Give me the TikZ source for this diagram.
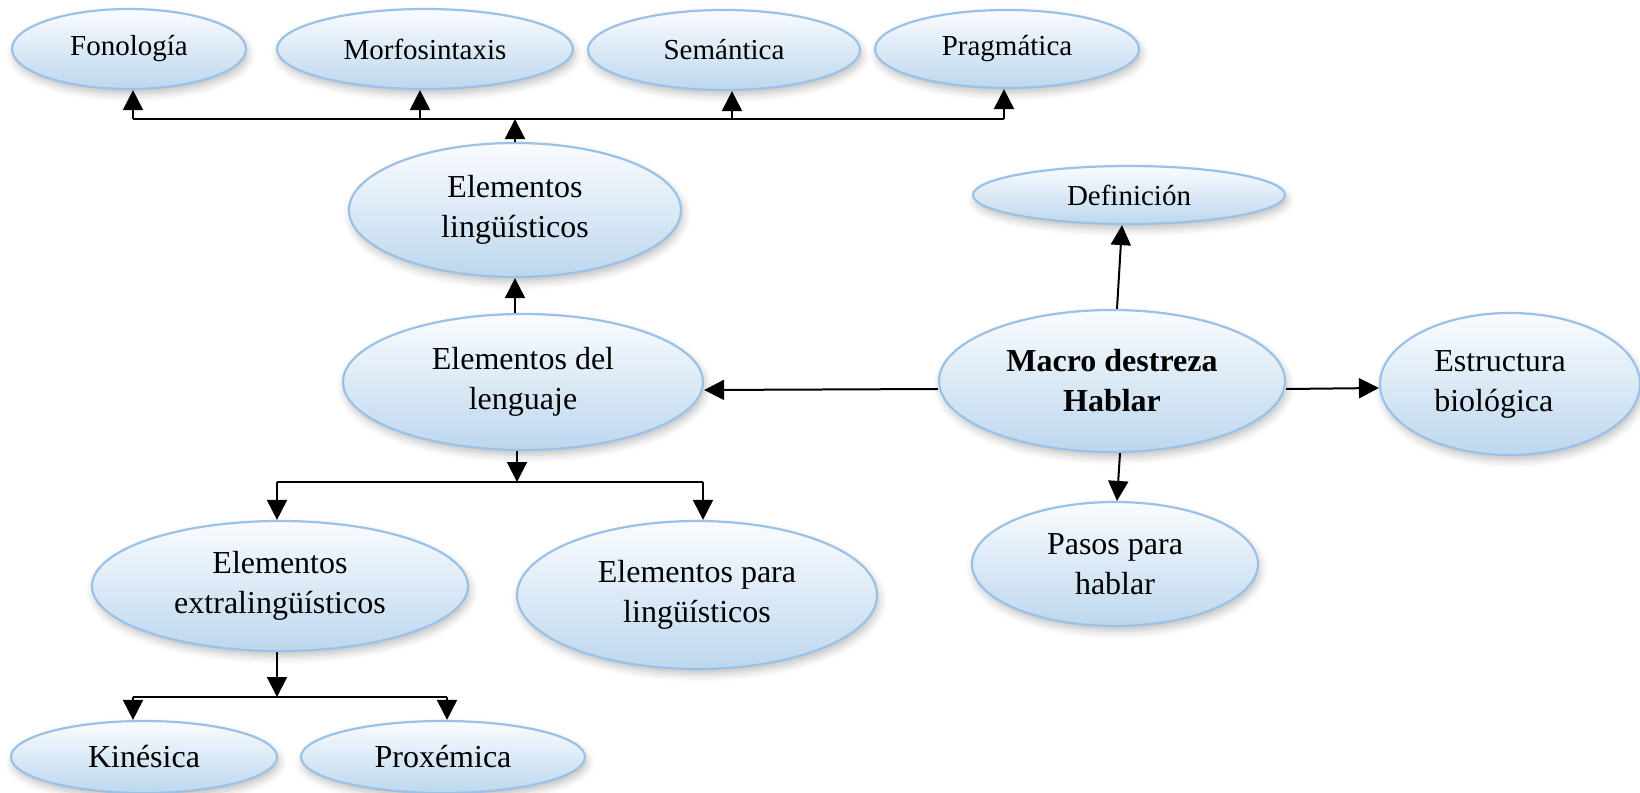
\documentclass[tikz,border=0pt]{standalone}
\usepackage{fontspec}
\setmainfont{Liberation Serif}
\usetikzlibrary{arrows.meta,shapes.geometric,shadows.blur}
\definecolor{bord}{RGB}{155,194,230}
\definecolor{fillbot}{RGB}{189,215,238}
\definecolor{filltop}{RGB}{250,252,254}
\tikzset{
 ell/.style={ellipse, draw=bord, line width=1.1pt, top color=filltop, bottom color=fillbot,
   inner sep=0pt, align=center, font=\fontsize{16}{20}\selectfont,
   blur shadow={shadow xshift=1pt, shadow yshift=-2.5pt, shadow blur radius=4pt, shadow opacity=25}},
 smalltext/.style={font=\fontsize{14.5}{18}\selectfont},
 conn/.style={line width=1pt, black},
 arr/.style={conn, -{Triangle[length=10pt,width=10pt]}},
}
\begin{document}
\begin{tikzpicture}[x=0.5pt,y=-0.5pt]
\useasboundingbox (0,0) rectangle (1640,793);
% top row
\node[ell,smalltext,minimum width=117pt,minimum height=40pt] (fon) at (129,49) {Fonología};
\node[ell,smalltext,minimum width=148pt,minimum height=40pt] (mor) at (425,49) {Morfosintaxis};
\node[ell,smalltext,minimum width=136pt,minimum height=40pt] (sem) at (724,50) {Semántica};
\node[ell,smalltext,minimum width=132pt,minimum height=39pt] (pra) at (1007,49) {Pragmática};
% middle
\node[ell,minimum width=166pt,minimum height=67pt] (eling) at (515,210) {Elementos\\lingüísticos};
\node[ell,smalltext,minimum width=156pt,minimum height=29pt] (def) at (1129,195) {Definición};
\node[ell,minimum width=180pt,minimum height=68pt] (elen) at (523,382) {Elementos del\\lenguaje};
\node[ell,minimum width=173pt,minimum height=71pt] (macro) at (1112,381) {\textbf{Macro destreza}\\\textbf{Hablar}};
\node[ell,minimum width=130pt,minimum height=71pt,align=left] (estr) at (1510,384) {Estructura\hspace*{10pt}\\biológica};
\node[ell,minimum width=143pt,minimum height=62pt] (pasos) at (1115,564) {Pasos para\\hablar};
\node[ell,minimum width=188pt,minimum height=65pt] (extra) at (280,586) {Elementos\\extralingüísticos};
\node[ell,minimum width=180pt,minimum height=74pt] (para) at (697,595) {Elementos para\\lingüísticos};
\node[ell,minimum width=133pt,minimum height=36pt] (kin) at (144,757) {Kinésica};
\node[ell,minimum width=142pt,minimum height=36pt] (prox) at (443,757) {Proxémica};
% top bus
\coordinate (tb) at (515,119);
\coordinate (tfon) at ([xshift=2pt]fon.south |- tb);
\coordinate (tmor) at ([xshift=-2.5pt]mor.south |- tb);
\coordinate (tsem) at ([xshift=4pt]sem.south |- tb);
\coordinate (tpra) at ([xshift=-1.5pt]pra.south |- tb);
\draw[conn] (tfon) -- (tpra);
\draw[arr] (eling.north) -- (tb);
\draw[arr] (tfon) -- (tfon |- fon.south);
\draw[arr] (tmor) -- (tmor |- mor.south);
\draw[arr] (tsem) -- (tsem |- sem.south);
\draw[arr] (tpra) -- (tpra |- pra.south);
% elen -> eling
\draw[arr] (eling.south |- elen.north) -- (eling.south);
% macro connections
\draw[arr] ([yshift=-4pt]macro.west) -- ([yshift=-4pt]elen.east);
\draw[arr] ([xshift=2.5pt]macro.north) -- ([xshift=-3.5pt]def.south);
\draw[arr] ([yshift=-4pt]macro.east) -- ([yshift=-2pt]estr.west);
\draw[arr] ([xshift=4pt]macro.south) -- ([xshift=1pt]pasos.north);
% elen bus
\coordinate (mb) at (517,482);
\coordinate (mextra) at ([xshift=-1.5pt]extra.north |- mb);
\coordinate (mpara) at ([xshift=3pt]para.north |- mb);
\draw[conn] (mextra) -- (mpara);
\draw[arr] ([xshift=-3pt]elen.south) -- (mb);
\draw[arr] (mextra) -- (mextra |- extra.north);
\draw[arr] (mpara) -- (mpara |- para.north);
% extra bus
\coordinate (bb) at (277,697);
\coordinate (bkin) at ([xshift=-5.5pt]kin.north |- bb);
\coordinate (bprox) at ([xshift=2pt]prox.north |- bb);
\draw[conn] (bkin) -- (bprox);
\draw[arr] (bb |- extra.south) -- (bb);
\draw[arr] (bkin) -- (bkin |- kin.north);
\draw[arr] (bprox) -- (bprox |- prox.north);
\end{tikzpicture}
\end{document}
